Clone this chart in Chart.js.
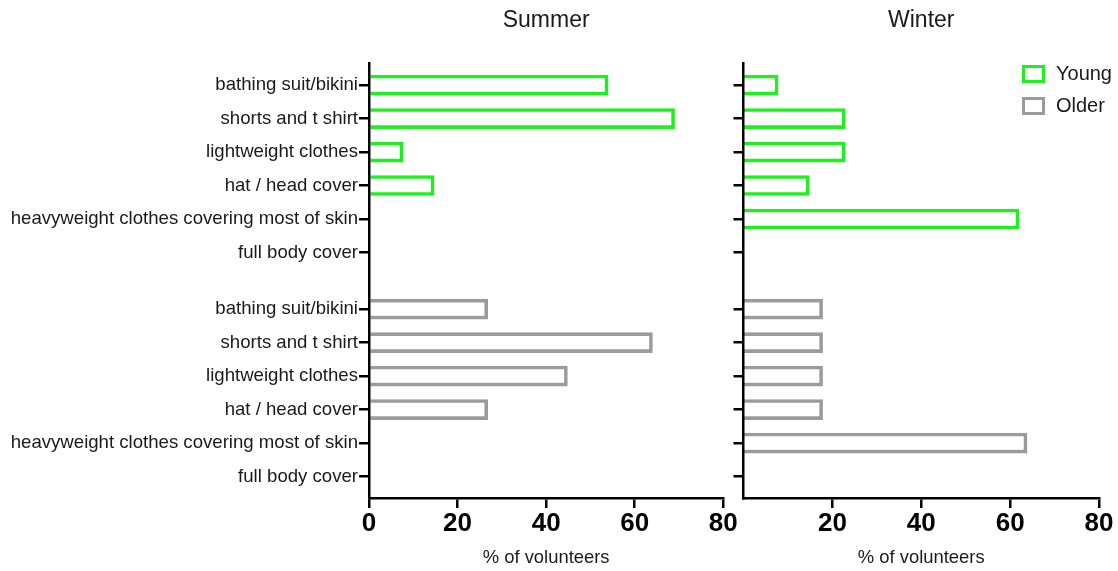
<!DOCTYPE html>
<html>
<head>
<meta charset="utf-8">
<script src="https://cdn.jsdelivr.net/npm/chart.js@4.4.1/dist/chart.umd.min.js"></script>
<style>
  html, body { margin: 0; padding: 0; background: #fff; }
  #wrap { position: relative; width: 1118px; height: 571px; overflow: hidden; }
  #c1 { position: absolute; left: 0; top: 0; }
  #c2 { position: absolute; left: 720px; top: 0; }
  #legend { position: absolute; left: 1022px; top: 65px; font-family: 'Liberation Sans', Arial, sans-serif; font-size: 20px; color: #1a1a1a; }
  .li { position: relative; height: 31.5px; }
  .box { position: absolute; left: 0; top: 0; width: 17px; height: 12px; border: 3px solid; background: #fff; }
  .lt { position: absolute; left: 34px; top: -3px; white-space: nowrap; }
</style>
</head>
<body>
<div id="wrap">
  <div id="c1box"><canvas id="c1"></canvas></div>
  <div id="c2box"><canvas id="c2"></canvas></div>
  <div id="legend"></div>
</div>
<script>
// ---- data ----
const categories = [
  'bathing suit/bikini',
  'shorts and t shirt',
  'lightweight clothes',
  'hat / head cover',
  'heavyweight clothes covering most of skin',
  'full body cover'
];
const groups = ['Young', 'Older'];
const summerYoung = [54, 69, 7.7, 14.7, 0, 0];
const summerOlder = [26.8, 64, 44.8, 26.8, 0, 0];
const winterYoung = [7.8, 22.9, 22.9, 14.8, 62, 0];
const winterOlder = [17.8, 17.8, 17.8, 17.8, 63.8, 0];
const panelTitles = ['Summer', 'Winter'];
const xTicks = [0, 20, 40, 60, 80];
const xTitle = '% of volunteers';

// ---- styling ----
const colors = { Young: '#1ef01e', Older: '#9b9b9b' };
const groupGap = 1.69;            // extra spacing between the two groups (in rows)
const FONT = "'Liberation Sans', Arial, sans-serif";
const TXT = '#1a1a1a';

// row positions for each group on a linear index axis
function rowPos(g, i) { return g * (categories.length - 1 + groupGap) + i; }
const allPos = [];
const allLabels = [];
groups.forEach((g, gi) => categories.forEach((c, i) => { allPos.push(rowPos(gi, i)); allLabels.push(c); }));
const yMin = -0.65, yMax = rowPos(1, categories.length - 1) + 0.64;

function makeDatasets(youngVals, olderVals) {
  return [youngVals, olderVals].map((vals, gi) => ({
    label: groups[gi],
    data: vals.map((v, i) => ({ x: v, y: rowPos(gi, i) })),
    borderColor: colors[groups[gi]],
    backgroundColor: '#ffffff',
    borderWidth: 3.6,
    borderSkipped: 'start',
    barThickness: 20,
    grouped: false
  }));
}

function makeChart(canvasId, width, title, datasets, opts) {
  const cv = document.getElementById(canvasId);
  cv.style.width = width + 'px';
  cv.style.height = '571px';
  cv.width = width; cv.height = 571;
  return new Chart(cv, {
    type: 'bar',
    data: { datasets },
    options: {
      indexAxis: 'y',
      responsive: false,
      animation: false,
      devicePixelRatio: 1,
      layout: { padding: { left: 0, right: opts.padRight, top: 0, bottom: 0 } },
      plugins: {
        legend: { display: false },
        tooltip: { enabled: false },
        title: {
          display: true, text: title, fullSize: false, color: TXT,
          font: { family: FONT, size: 23, weight: 'normal' },
          padding: { top: 7, bottom: 28.7 }
        }
      },
      scales: {
        x: {
          type: 'linear', min: 0, max: 80, offset: false,
          afterBuildTicks: s => { s.ticks = xTicks.filter(v => opts.showZero || v !== 0).map(v => ({ value: v })); },
          afterFit: s => { s.height = 73; },
          grid: { drawOnChartArea: false, drawTicks: true, tickLength: 10, color: '#000', tickWidth: 2.5, lineWidth: 2.5 },
          border: { display: true, color: '#000', width: 2.5, z: 1 },
          ticks: { color: '#000', padding: 0, font: { family: FONT, size: 26, weight: 'bold' } },
          title: { display: true, text: xTitle, color: TXT, font: { family: FONT, size: 18.4 }, padding: { top: 0, bottom: 2 } }
        },
        y: {
          type: 'linear', reverse: true, min: yMin, max: yMax, offset: false,
          afterBuildTicks: s => { s.ticks = allPos.map(v => ({ value: v })); },
          afterFit: s => { s.width = opts.yWidth; },
          grid: { drawOnChartArea: false, drawTicks: true, tickLength: 10, color: '#000', tickWidth: 2.5, lineWidth: 2.5, offset: false },
          border: { display: true, color: '#000', width: 2.5, z: 1 },
          ticks: {
            color: TXT, padding: 1, autoSkip: false,
            font: { family: FONT, size: 18.6 },
            callback: (v, i) => opts.showLabels ? allLabels[i] : ''
          }
        }
      }
    }
  });
}

makeChart('c1', 745, panelTitles[0], makeDatasets(summerYoung, summerOlder),
  { padRight: 21.7, yWidth: 369, showZero: true, showLabels: true });
makeChart('c2', 398, panelTitles[1], makeDatasets(winterYoung, winterOlder),
  { padRight: 19, yWidth: 23.5, showZero: false, showLabels: false });

// legend (HTML, from the datasets)
const lg = document.getElementById('legend');
groups.forEach(g => {
  const d = document.createElement('div'); d.className = 'li';
  const b = document.createElement('div'); b.className = 'box'; b.style.borderColor = colors[g];
  const t = document.createElement('div'); t.className = 'lt'; t.textContent = g;
  d.appendChild(b); d.appendChild(t); lg.appendChild(d);
});
</script>
</body>
</html>
